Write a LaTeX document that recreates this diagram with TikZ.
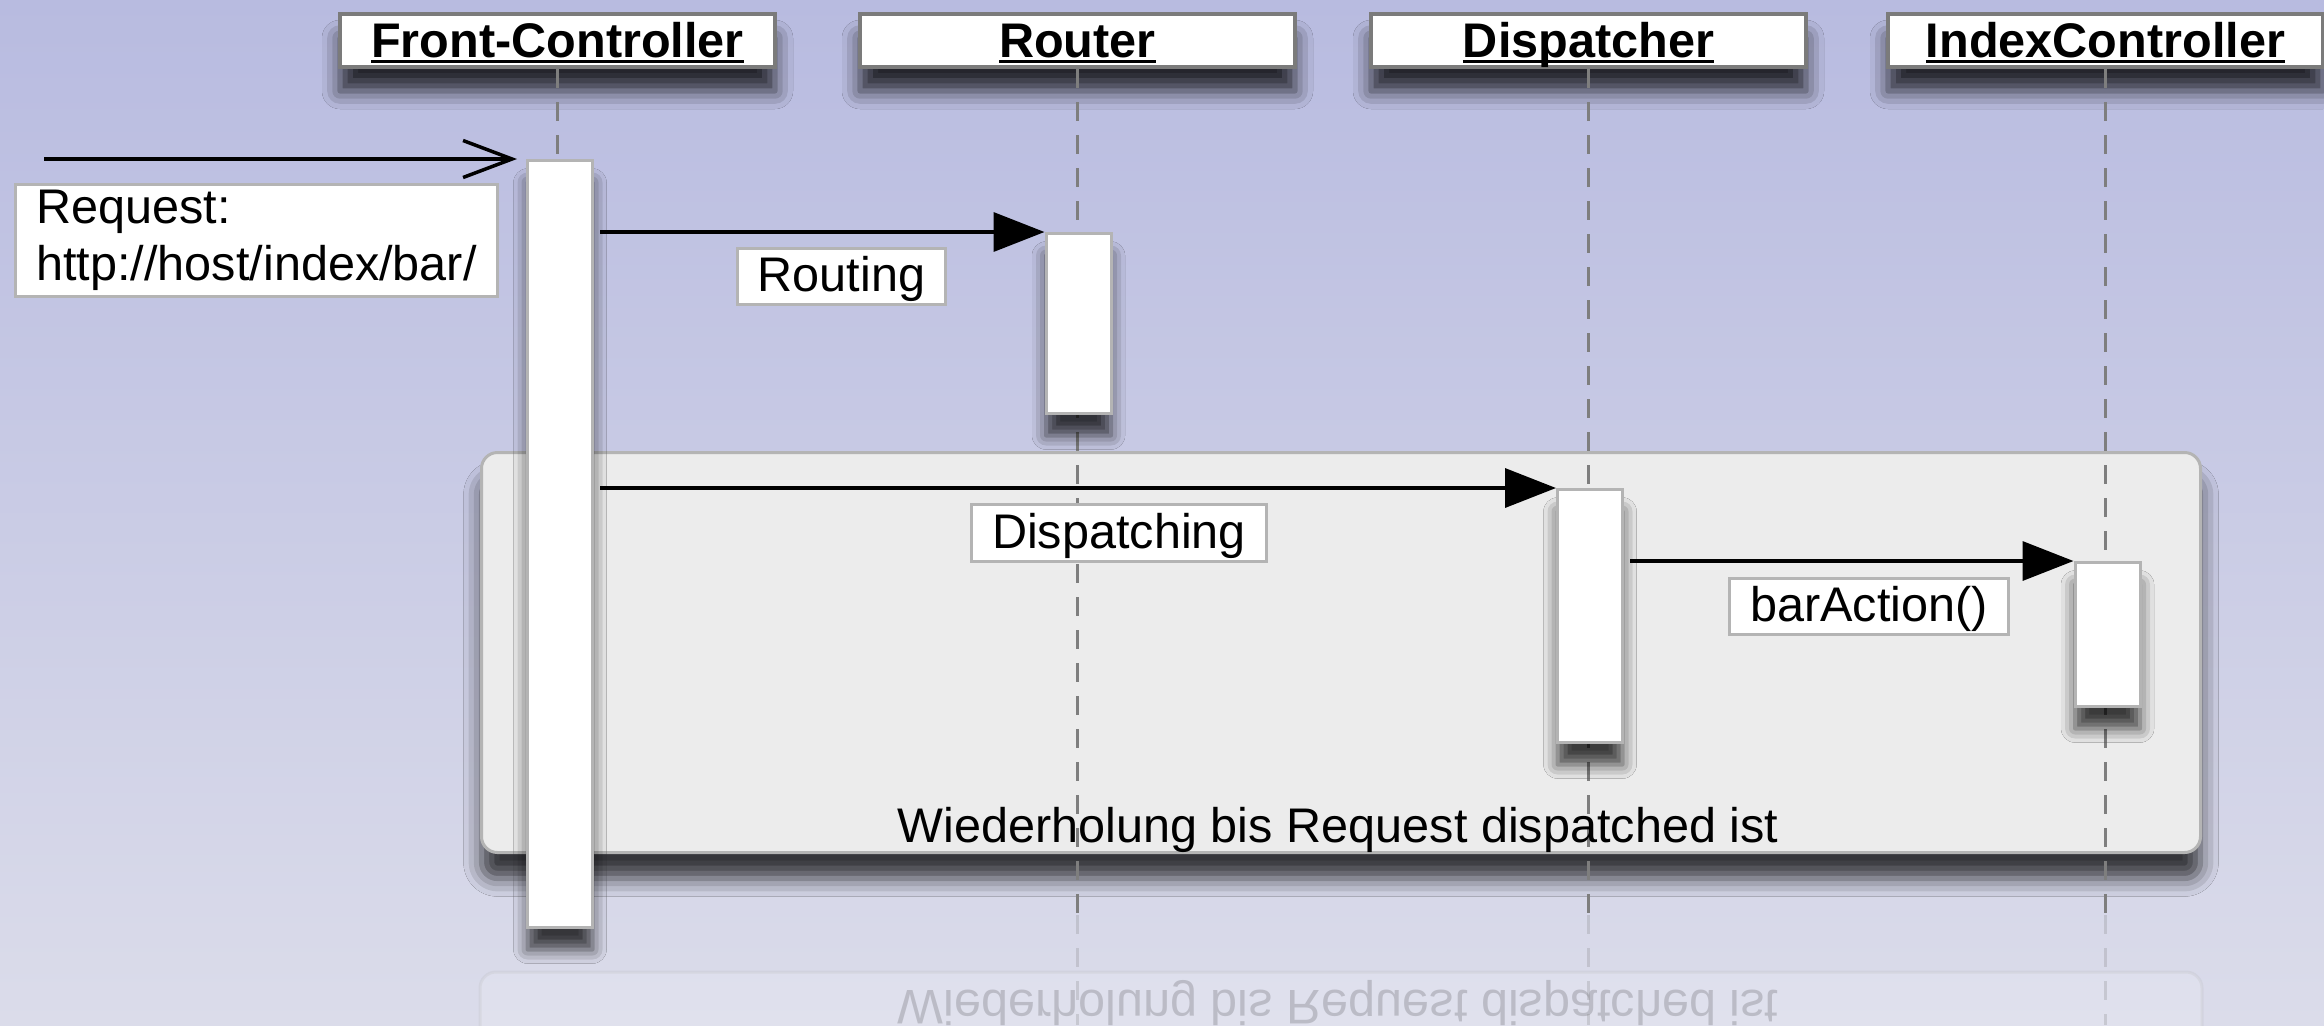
\documentclass[tikz,border=0pt]{standalone}
\usepackage{fontspec}
\setmainfont{Liberation Sans}
\usetikzlibrary{arrows.meta,shadows.blur}

\definecolor{bgtop}{HTML}{B8BBE0}
\definecolor{bgmid}{HTML}{C6C8E5}
\definecolor{bgbot}{HTML}{DBDCEA}
\definecolor{hdrborder}{HTML}{7B7B7B}
\definecolor{boxborder}{HTML}{B4B4B4}
\definecolor{loopfill}{HTML}{ECECEC}
\definecolor{lifecol}{HTML}{7E7E7E}

\newcommand\ulhdr[1]{\setbox0=\hbox{#1}\rlap{\rule[-2.3pt]{\wd0}{1.4pt}}\box0}

\tikzset{
  basefont/.style={font=\fontsize{24.3pt}{28.4pt}\selectfont},
  hdr/.style={draw=hdrborder, line width=2pt, fill=white, inner sep=0pt,
    minimum width=217.5pt, minimum height=26.5pt, text height=17.4pt, text depth=0pt,
    font=\fontsize{24.3pt}{28.4pt}\selectfont\bfseries,
    blur shadow={shadow xshift=0pt, shadow yshift=-12pt, shadow blur radius=9pt, shadow opacity=80}},
  act/.style={draw=boxborder, line width=1.5pt, fill=white, inner sep=0pt, minimum width=32.5pt,
    blur shadow={shadow xshift=0pt, shadow yshift=-11pt, shadow blur radius=7pt, shadow opacity=75}},
  lbl/.style={draw=boxborder, line width=1.5pt, fill=white, inner sep=0pt,
    text height=17.4pt, text depth=2pt},
  loopbox/.style={draw=boxborder, line width=1.5pt, fill=loopfill, rounded corners=8pt, inner sep=0pt,
    blur shadow={shadow xshift=0pt, shadow yshift=-13pt, shadow blur radius=9pt, shadow opacity=75}},
  lifeline/.style={draw=lifecol, line width=1.2pt, dash pattern=on 9.5pt off 7pt},
  msgopen/.style={draw=black, line width=1.75pt, -{Straight Barb[length=24.5pt, width=18.5pt, line width=1.75pt]}},
  msgfill/.style={draw=black, line width=1.75pt, -{Triangle[length=25.5pt, width=19.5pt]}},
}

\begin{document}
\begin{tikzpicture}[x=0.5pt, y=-0.5pt, basefont]
\useasboundingbox (0,0) rectangle (2324,1025);
\shade[top color=bgtop, middle color=bgmid, bottom color=bgbot] (0,0) rectangle (2324,1025);

% reflection (faint)
\begin{scope}
  \clip (0,915) rectangle (2324,1025);
  \fill[white, opacity=0.15, rounded corners=8pt] (480,972) rectangle (2202,1400);
  \draw[boxborder, opacity=0.2, line width=1.5pt, rounded corners=8pt] (480,972) rectangle (2202,1400);
  \node[opacity=0.16] (loopreflect) at (1338,1003) {\scalebox{1}[-1]{Wiederholung bis Request dispatched ist}};
  \foreach \lx in {1077.5,1588.5,2105.5}
    \draw[lifeline, opacity=0.25] (\lx,915) -- (\lx,1025);
\end{scope}

% loop fragment
\node[loopbox, minimum width=859.5pt, minimum height=200pt] (loop) at (1341,652.5) {};

% headers
\node[hdr] (fch) at (557.5,40.5) {\ulhdr{Front-Controller}};
\node[hdr] (rh)  at (1077.5,40.5) {\ulhdr{Router}};
\node[hdr] (dh)  at (1588.5,40.5) {\ulhdr{Dispatcher}};
\node[hdr] (ich) at (2105.5,40.5) {\ulhdr{IndexController}};

% lifeline ends
\coordinate (fce) at (557.5,913);
\coordinate (re)  at (1077.5,913);
\coordinate (de)  at (1588.5,913);
\coordinate (ice) at (2105.5,913);

\draw[lifeline] (fch.south) -- (fce);
\draw[lifeline] (rh.south) -- (re);
\draw[lifeline] (dh.south) -- (de);
\draw[lifeline] (ich.south) -- (ice);

% loop text
\node[anchor=base] (looptxt) at (1338,842) {Wiederholung bis Request dispatched ist};

% activations
\node[act, minimum height=383.5pt] (fca) at (560,544) {};
\node[act, minimum height=90pt]    (ra)  at (1078.5,323.5) {};
\node[act, minimum height=126.5pt] (da)  at (1590,616) {};
\node[act, minimum height=72pt]    (ica) at (2107.5,634.5) {};

% messages
\coordinate (src) at (44,159);
\draw[msgopen] (src) -- ([xshift=-4.5pt]fca.north west);
\draw[msgfill] ([xshift=3pt]fca.east |- ra.north west) -- (ra.north west);
\draw[msgfill] ([xshift=3pt]fca.east |- da.north west) -- (da.north west);
\draw[msgfill] ([xshift=3pt]da.east |- ica.north west) -- (ica.north west);

% labels
\node[draw=boxborder, line width=1.5pt, fill=white, inner sep=0pt, minimum width=241pt, minimum height=56pt, align=left]
  (req) at (256.5,240.5) {Request:\\http://host/index/bar/};
\node[lbl, minimum width=104pt, minimum height=28pt]   (lrouting)  at (841.5,276.5) {Routing};
\node[lbl, minimum width=147.5pt, minimum height=28.5pt] (ldisp)   at (1119,533) {Dispatching};
\node[lbl, minimum width=139.5pt, minimum height=28pt] (lbar)      at (1869,606.5) {barAction()};
\end{tikzpicture}
\end{document}
